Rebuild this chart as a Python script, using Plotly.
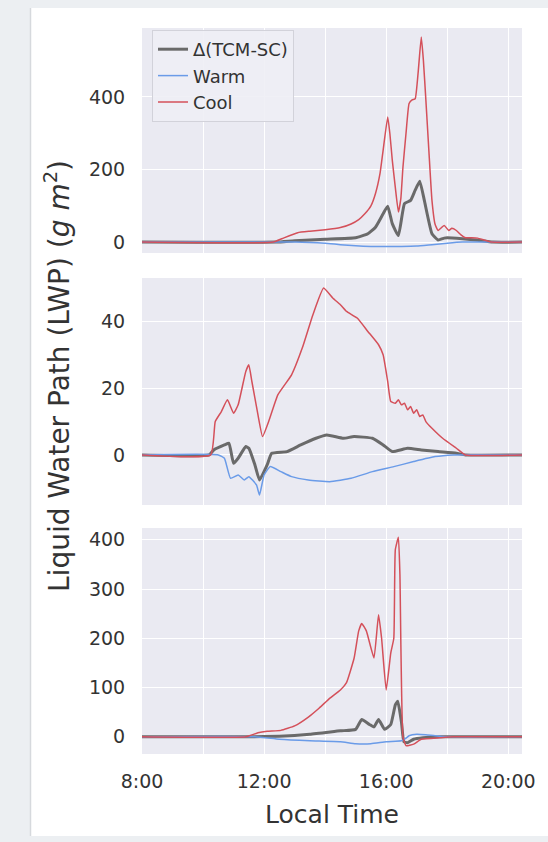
import plotly.graph_objects as go

# ---------------- data (hours local time, LWP values) ----------------
t_top_delta = [8.0, 12.4, 13.0, 14.0, 15.0, 15.4, 15.65, 15.9, 16.05, 16.2, 16.4, 16.6, 16.8, 16.95, 17.1, 17.25, 17.5, 17.7, 17.9, 18.0, 18.5, 19.0, 19.5, 20.45]
delta_top = [0, 0, 4, 8, 12, 23, 41, 78, 99, 51, 18, 106, 115, 143, 168, 115, 23, 6, 11, 12, 9, 5, 0, 0]
t_top_warm = [8.0, 13.0, 13.5, 14.0, 14.5, 15.0, 15.5, 16.0, 16.5, 17.0, 17.5, 18.0, 18.5, 20.45]
warm_top = [0, 0, -1, -3, -7, -10, -12, -12, -12, -11, -7, -3, 0, 0]
t_top_cool = [8.0, 12.3, 12.6, 13.1, 13.5, 14.0, 14.5, 14.85, 15.1, 15.3, 15.5, 15.65, 15.8, 15.9, 16.05, 16.12, 16.2, 16.3, 16.4, 16.48, 16.55, 16.65, 16.75, 16.85, 16.95, 17.05, 17.15, 17.22, 17.3, 17.4, 17.5, 17.6, 17.7, 17.9, 18.05, 18.15, 18.3, 18.45, 18.6, 18.8, 19.0, 19.2, 19.45, 20.45]
cool_top = [0, 0, 10, 26, 30, 34, 40, 50, 62, 78, 100, 134, 190, 253, 345, 300, 226, 150, 83, 120, 207, 300, 382, 392, 395, 470, 565, 500, 392, 250, 115, 50, 32, 46, 32, 38, 32, 20, 12, 12, 11, 6, 0, 0]

t_mid_delta = [8.0, 10.2, 10.35, 10.7, 10.85, 11.0, 11.15, 11.4, 11.5, 11.7, 11.85, 12.1, 12.25, 12.75, 13.2, 13.7, 14.05, 14.6, 14.95, 15.55, 15.9, 16.2, 16.7, 17.15, 17.7, 18.3, 18.6, 20.45]
delta_mid = [0, 0, 1.5, 3, 3.5, -2.5, -1, 2.5, 2, -3, -7.5, -3, 0.5, 1, 3, 5, 6, 5, 5.5, 5, 3, 1, 2, 1.5, 1, 0.5, 0, 0]
t_mid_warm = [8.0, 10.5, 10.7, 10.9, 11.15, 11.35, 11.5, 11.75, 11.85, 12.0, 12.2, 12.55, 12.9, 13.45, 14.15, 14.85, 15.55, 16.25, 16.9, 17.6, 18.2, 20.45]
warm_mid = [0, 0, -1, -7, -6, -7.5, -6.5, -9, -12, -6, -3.5, -5, -6.5, -7.5, -8, -7, -5, -3.5, -2, -0.5, 0, 0]
t_mid_cool = [8.0, 10.25, 10.4, 10.6, 10.8, 11.0, 11.15, 11.4, 11.5, 11.6, 11.8, 11.95, 12.15, 12.45, 12.9, 13.25, 13.6, 13.95, 14.25, 14.5, 14.7, 15.05, 15.4, 15.75, 15.9, 16.05, 16.15, 16.3, 16.4, 16.5, 16.6, 16.7, 16.8, 16.9, 17.0, 17.1, 17.2, 17.3, 17.5, 17.85, 18.3, 18.6, 20.45]
cool_mid = [0, 0, 10, 13, 16.5, 12.5, 15, 25, 27, 22, 12, 5.5, 10, 18, 24, 32, 42, 50, 47, 45, 43, 41, 37, 33, 30, 22, 16, 15.5, 16.5, 15, 15.5, 13.5, 14.5, 12.5, 13.5, 11.5, 12, 10, 8, 5, 2, 0, 0]

t_bot_delta = [8.0, 11.5, 12.5, 13.5, 14.5, 15.0, 15.2, 15.45, 15.6, 15.75, 15.95, 16.15, 16.3, 16.38, 16.5, 16.58, 16.7, 16.9, 17.2, 17.8, 20.45]
delta_bot = [0, 0, 1, 5, 12, 15, 35, 25, 20, 35, 15, 25, 65, 72, 30, -10, -12, -5, -2, 0, 0]
t_bot_warm = [8.0, 11.7, 12.5, 13.5, 14.5, 15.0, 15.5, 16.0, 16.5, 16.6, 16.75, 17.0, 17.3, 17.6, 18.0, 20.45]
warm_bot = [0, 0, -5, -8, -10, -14, -14, -10, -8, -5, 2, 5, 4, 2, 0, 0]
t_bot_cool = [8.0, 11.4, 11.8, 12.1, 12.55, 13.0, 13.45, 13.8, 14.15, 14.5, 14.7, 14.95, 15.1, 15.2, 15.35, 15.6, 15.75, 15.85, 16.0, 16.15, 16.25, 16.3, 16.4, 16.45, 16.55, 16.65, 16.9, 17.15, 17.75, 18.2, 20.45]
cool_bot = [0, 0, 8, 11, 13, 22, 40, 58, 78, 95, 110, 160, 215, 230, 215, 160, 248, 200, 95, 170, 200, 380, 405, 330, 0, -18, -15, -5, -2, 0, 0]

x_tickvals = [8, 12, 16, 20]
x_ticktext = ["8:00", "12:00", "16:00", "20:00"]
x_minor_grid = [10, 14, 18]
series_names = ["Δ(TCM-SC)", "Warm", "Cool"]

W, H = 548, 842
GRAY, BLUE, RED = "#6a6a6a", "#6a9be8", "#d4505a"
FONT = "DejaVu Sans"
TXT = "#333333"

fig = go.Figure()

panels = [
    (t_top_delta, delta_top, t_top_warm, warm_top, t_top_cool, cool_top),
    (t_mid_delta, delta_mid, t_mid_warm, warm_mid, t_mid_cool, cool_mid),
    (t_bot_delta, delta_bot, t_bot_warm, warm_bot, t_bot_cool, cool_bot),
]
for i, (td, d, tw, w, tc, c) in enumerate(panels):
    sfx = "" if i == 0 else str(i + 1)
    xa, ya = "x" + sfx, "y" + sfx
    fig.add_trace(go.Scatter(x=td, y=d, mode="lines", name=series_names[0], xaxis=xa, yaxis=ya,
                             line=dict(color=GRAY, width=3, shape="spline", smoothing=0.4),
                             showlegend=(i == 0)))
    fig.add_trace(go.Scatter(x=tw, y=w, mode="lines", name=series_names[1], xaxis=xa, yaxis=ya,
                             line=dict(color=BLUE, width=1.5, shape="spline", smoothing=0.4),
                             showlegend=(i == 0)))
    fig.add_trace(go.Scatter(x=tc, y=c, mode="lines", name=series_names[2], xaxis=xa, yaxis=ya,
                             line=dict(color=RED, width=1.5, shape="spline", smoothing=0.4),
                             showlegend=(i == 0)))

def px_dom_y(top, bottom):
    return [1 - bottom / H, 1 - top / H]

xdom = [142 / W, 522 / W]
ydoms = [px_dom_y(28, 253), px_dom_y(278, 505), px_dom_y(528, 754)]
yranges = [[-30, 590], [-15, 53], [-35, 424]]
ytickvals = [[0, 200, 400], [0, 20, 40], [0, 100, 200, 300, 400]]

common_x = dict(range=[8, 20.45], tickvals=x_tickvals, ticktext=x_ticktext, automargin=False,
                showgrid=True, gridcolor="white", gridwidth=1.3, zeroline=False,
                minor=dict(tickvals=x_minor_grid, showgrid=True, gridcolor="white", gridwidth=1.3, ticks=""),
                showline=False, ticks="outside", ticklen=10, tickcolor="rgba(0,0,0,0)",
                tickfont=dict(family=FONT, size=19, color=TXT), domain=xdom)
common_y = dict(showgrid=True, gridcolor="white", gridwidth=1.3, zeroline=False, showline=False,
                automargin=False, ticks="outside", ticklen=12, tickcolor="rgba(0,0,0,0)",
                tickfont=dict(family=FONT, size=19, color=TXT))

layout = {}
for i in range(3):
    sfx = "" if i == 0 else str(i + 1)
    xd = dict(common_x)
    xd["anchor"] = "y" + sfx
    if i < 2:
        xd["showticklabels"] = False
    else:
        xd["title"] = dict(text="Local Time", font=dict(family=FONT, size=25, color=TXT), standoff=14)
    yd = dict(common_y)
    yd.update(domain=ydoms[i], range=yranges[i], tickvals=ytickvals[i], anchor="x" + sfx)
    layout["xaxis" + sfx] = xd
    layout["yaxis" + sfx] = yd

fig.update_layout(**layout)
fig.update_layout(
    width=W, height=H, margin=dict(l=0, r=0, t=0, b=0, autoexpand=False),
    paper_bgcolor="white", plot_bgcolor="#eaeaf2",
    font=dict(family=FONT, color=TXT),
    legend=dict(x=152 / W, y=1 - 30 / H, xanchor="left", yanchor="top",
                bgcolor="rgba(238,238,245,0.9)", bordercolor="#d2d2da", borderwidth=1,
                font=dict(family=FONT, size=18, color=TXT), itemwidth=30, tracegroupgap=0),
    shapes=[
        # page background around the card
        dict(type="rect", xref="paper", yref="paper", x0=0, x1=30 / W, y0=0, y1=1,
             fillcolor="#eceff2", line=dict(width=0), layer="below"),
        dict(type="rect", xref="paper", yref="paper", x0=0, x1=1, y0=1 - 8 / H, y1=1,
             fillcolor="#eceff2", line=dict(width=0), layer="below"),
        dict(type="rect", xref="paper", yref="paper", x0=0, x1=1, y0=0, y1=1 - 836 / H,
             fillcolor="#eceff2", line=dict(width=0), layer="below"),
        dict(type="line", xref="paper", yref="paper", x0=30.5 / W, x1=30.5 / W, y0=1 - 836 / H, y1=1 - 8 / H,
             line=dict(color="#d6d9dd", width=1.5), layer="below"),
    ],
    annotations=[
        dict(text="Liquid Water Path (LWP) (<i>g m</i><sup>2</sup>)", xref="paper", yref="paper",
             x=58 / W, y=1 - 376 / H, textangle=-90, showarrow=False,
             font=dict(family=FONT, size=28, color=TXT), xanchor="center", yanchor="middle"),
    ],
)

fig.write_html("out.html", config={"displayModeBar": False},
               post_script="document.body.style.margin='0';")
